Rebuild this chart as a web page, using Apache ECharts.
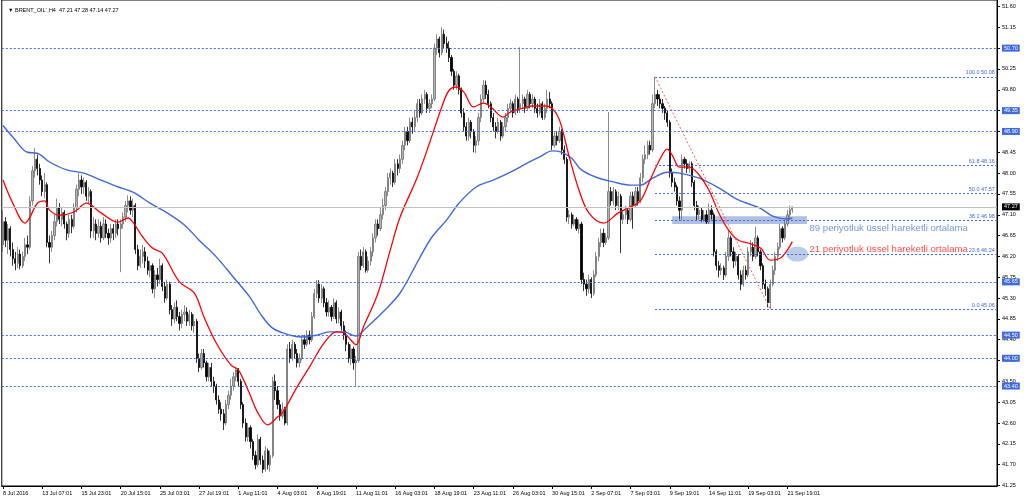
<!DOCTYPE html>
<html>
<head>
<meta charset="utf-8">
<script src="https://cdn.jsdelivr.net/npm/echarts@6/dist/echarts.min.js"></script>
<style>
html,body{margin:0;padding:0;background:#fff;}
#chart{width:1024px;height:502px;}
</style>
</head>
<body>
<div id="chart"></div>
<script>
// ---- DATA ----
const symbolName = 'BRENT_OIL`,H4';
const tickLabels = ['8 Jul 2016','13 Jul 07:01','15 Jul 23:01','20 Jul 15:01','25 Jul 03:01','27 Jul 19:01','1 Aug 11:01','4 Aug 03:01','8 Aug 19:01','11 Aug 11:01','16 Aug 03:01','18 Aug 19:01','23 Aug 11:01','26 Aug 03:01','30 Aug 15:01','2 Sep 07:01','7 Sep 03:01','9 Sep 19:01','14 Sep 11:01','19 Sep 03:01','21 Sep 19:01'];
const barsPerTick = 16;
const totalSlots = 406;
// [open, close, low, high]
const candles = [
[46.45,46.95,46.30,47.20],[46.95,46.55,46.40,47.05],[46.55,46.80,46.25,46.90],[46.80,46.35,46.20,46.85],
[46.35,46.15,46.00,46.50],[46.15,46.05,45.90,46.30],[46.05,46.25,45.95,46.40],[46.25,46.00,45.92,46.35],
[46.00,46.20,45.95,46.30],[46.20,46.45,46.10,46.60],[46.45,46.40,46.25,46.65],[46.40,47.40,46.35,47.50],
[47.40,48.05,47.30,48.15],[48.05,48.30,47.90,48.54],[48.30,48.10,47.95,48.40],[48.10,47.85,47.75,48.20],
[47.85,47.60,47.50,47.95],[47.60,47.75,47.45,48.00],[47.75,46.50,46.40,47.80],[46.50,46.40,46.05,46.65],
[46.40,46.65,46.30,46.75],[46.65,46.95,46.55,47.10],[46.95,47.25,46.85,47.45],[47.25,47.00,46.90,47.35],
[47.00,47.15,46.85,47.25],[47.15,46.90,46.80,47.20],[46.90,46.70,46.55,46.95],[46.70,47.00,46.60,47.10],
[47.00,46.85,46.70,47.10],[46.85,47.25,46.80,47.35],[47.25,47.65,47.15,47.75],[47.65,47.85,47.50,48.00],
[47.85,47.70,47.55,47.95],[47.70,47.80,47.55,47.90],[47.80,47.50,47.40,47.85],[47.50,47.60,47.35,47.70],
[47.60,46.75,46.60,47.65],[46.75,46.90,46.60,47.05],[46.90,46.70,46.55,47.00],[46.70,46.85,46.60,47.00],
[46.85,46.60,46.50,46.95],[46.60,46.90,46.55,47.05],[46.90,46.70,46.60,47.00],[46.70,46.60,46.45,46.80],
[46.60,46.80,46.50,46.90],[46.80,46.70,46.55,46.90],[46.70,46.90,46.60,47.00],[46.90,46.80,46.65,47.00],
[46.80,46.90,45.86,47.00],[46.90,47.05,46.80,47.15],[47.05,47.30,46.95,47.40],[47.30,47.40,47.15,47.52],
[47.40,47.20,47.10,47.50],[47.20,47.30,47.05,47.45],[47.30,46.35,46.25,47.35],[46.35,46.00,45.90,46.45],
[46.00,46.20,45.95,46.35],[46.20,46.30,46.05,46.45],[46.30,46.10,45.95,46.40],[46.10,45.90,45.80,46.20],
[45.90,46.00,45.75,46.10],[46.00,45.50,45.40,46.05],[45.50,45.80,45.30,45.90],[45.80,45.70,45.55,45.95],
[45.70,46.00,45.60,46.15],[46.00,45.55,45.45,46.05],[45.55,45.30,45.20,45.65],[45.30,45.60,45.25,45.70],
[45.60,45.05,44.95,45.65],[45.05,44.85,44.70,45.15],[44.85,45.10,44.75,45.20],[45.10,44.90,44.80,45.25],
[44.90,44.75,44.60,45.00],[44.75,44.95,44.65,45.05],[44.95,45.00,44.80,45.15],[45.00,44.80,44.70,45.10],
[44.80,44.95,44.70,45.05],[44.95,44.70,44.60,45.00],[44.70,44.80,44.55,44.95],[44.80,44.00,43.90,44.85],
[44.00,43.80,43.70,44.10],[43.80,44.10,43.75,44.20],[44.10,43.90,43.80,44.20],[43.90,43.60,43.50,43.95],
[43.60,43.80,43.50,43.90],[43.80,43.50,43.40,43.90],[43.50,43.40,43.25,43.60],[43.40,43.10,43.00,43.45],
[43.10,42.90,42.80,43.20],[42.90,42.80,42.65,43.05],[42.80,42.60,42.45,42.90],[42.60,43.00,42.55,43.10],
[43.00,43.20,42.90,43.30],[43.20,43.40,43.10,43.55],[43.40,43.60,43.30,43.70],[43.60,43.75,43.50,43.79],
[43.75,43.50,43.40,43.79],[43.50,43.00,42.90,43.55],[43.00,42.60,42.50,43.05],[42.60,42.30,42.20,42.70],
[42.30,42.50,42.20,42.60],[42.50,42.20,42.05,42.55],[42.20,41.90,41.80,42.25],[41.90,41.70,41.60,42.00],
[41.70,42.25,41.65,42.35],[42.25,41.80,41.70,42.30],[41.80,41.60,41.52,41.90],[41.60,42.00,41.55,42.10],
[42.00,41.70,41.60,42.05],[41.70,41.90,41.55,42.00],[41.90,43.50,41.85,43.60],[43.50,43.30,43.10,43.65],
[43.30,43.00,42.90,43.40],[43.00,42.75,42.65,43.10],[42.75,42.90,42.70,43.05],[42.90,42.60,42.55,42.95],
[42.60,44.20,42.55,44.30],[44.20,44.00,43.90,44.35],[44.00,44.30,43.95,44.40],[44.30,44.10,44.00,44.35],
[44.10,43.90,43.80,44.20],[43.90,44.00,43.80,44.10],[44.00,44.40,43.95,44.50],[44.40,44.30,44.20,44.50],
[44.30,44.50,44.25,44.60],[44.50,44.40,44.30,44.60],[44.40,44.90,44.35,45.00],[44.90,45.40,44.85,45.50],
[45.40,45.60,45.30,45.69],[45.60,45.30,45.20,45.69],[45.30,45.50,45.20,45.60],[45.50,45.20,45.10,45.55],
[45.20,45.00,44.90,45.30],[45.00,45.10,44.90,45.25],[45.10,44.90,44.80,45.15],[44.90,45.20,44.85,45.30],
[45.20,44.85,44.75,45.25],[44.85,45.00,44.75,45.10],[45.00,44.70,44.60,45.05],[44.70,44.50,44.40,44.80],
[44.50,44.30,44.15,44.60],[44.30,44.00,43.90,44.35],[44.00,44.20,43.85,44.30],[44.20,43.90,43.75,44.25],
[43.90,43.95,43.40,44.05],[43.95,46.20,43.90,46.30],[46.20,46.00,45.90,46.35],[46.00,46.30,45.95,46.40],
[46.30,45.90,45.85,46.35],[45.90,46.10,45.85,46.20],[46.10,46.30,46.00,46.40],[46.30,46.60,46.20,46.70],
[46.60,46.90,46.50,47.00],[46.90,46.80,46.65,47.00],[46.80,47.10,46.75,47.25],[47.10,47.30,47.00,47.45],
[47.30,47.60,47.20,47.70],[47.60,47.90,47.50,48.00],[47.90,48.00,47.75,48.10],[48.00,47.80,47.70,48.05],
[47.80,48.20,47.75,48.30],[48.20,48.10,47.95,48.30],[48.10,48.30,48.00,48.40],[48.30,48.60,48.20,48.70],
[48.60,48.90,48.50,49.00],[48.90,48.70,48.60,49.00],[48.70,49.10,48.65,49.20],[49.10,49.00,48.85,49.20],
[49.00,49.20,48.90,49.35],[49.20,49.50,49.10,49.60],[49.50,49.30,49.20,49.60],[49.30,49.60,49.25,49.70],
[49.60,49.70,49.50,49.80],[49.70,49.40,49.30,49.75],[49.40,49.50,49.30,49.60],[49.50,49.60,49.40,49.70],
[49.60,50.70,49.55,50.80],[50.70,50.90,50.55,51.00],[50.90,50.60,50.50,50.95],[50.60,51.00,50.55,51.15],
[51.00,50.80,50.70,51.10],[50.80,50.70,50.60,50.95],[50.70,50.50,50.40,50.85],[50.50,50.20,50.10,50.55],
[50.20,49.90,49.80,50.25],[49.90,50.10,49.80,50.20],[50.10,49.80,49.70,50.15],[49.80,49.30,49.20,49.85],
[49.30,49.00,48.90,49.40],[49.00,48.80,48.70,49.10],[48.80,49.10,48.70,49.20],[49.10,48.90,48.75,49.15],
[48.90,48.60,48.45,48.95],[48.60,48.70,48.43,48.80],[48.70,49.20,48.60,49.30],[49.20,49.60,49.10,49.70],
[49.60,49.90,49.50,50.01],[49.90,49.70,49.60,50.00],[49.70,49.50,49.40,49.80],[49.50,49.20,49.10,49.55],
[49.20,49.00,48.90,49.30],[49.00,48.90,48.75,49.10],[48.90,49.10,48.85,49.20],[49.10,48.80,48.70,49.15],
[48.80,49.00,48.75,49.10],[49.00,49.20,48.90,49.30],[49.20,49.40,49.10,49.50],[49.40,49.50,49.30,49.60],
[49.50,49.30,49.20,49.55],[49.30,49.60,49.25,49.70],[49.60,49.40,49.30,49.65],[49.40,49.50,49.30,50.72],
[49.50,49.60,49.40,49.70],[49.60,49.40,49.30,49.65],[49.40,49.70,49.35,49.80],[49.70,49.50,49.40,49.75],
[49.50,49.60,49.40,49.70],[49.60,49.40,49.30,49.65],[49.40,49.30,49.20,49.50],[49.30,49.50,49.25,49.60],
[49.50,49.20,49.15,49.55],[49.20,49.40,49.15,49.50],[49.40,49.60,49.30,49.80],[49.60,49.50,49.40,49.75],
[49.50,48.60,48.50,49.55],[48.60,48.80,48.55,48.90],[48.80,48.70,48.60,48.90],[48.70,48.90,48.65,49.00],
[48.90,48.50,48.40,48.95],[48.50,48.30,48.20,48.60],[48.30,47.05,46.95,48.35],[47.05,47.10,46.90,47.20],
[47.10,46.90,46.80,47.15],[46.90,47.00,46.85,47.10],[47.00,46.80,46.75,47.05],[46.80,46.90,46.70,47.00],
[46.90,45.70,45.60,46.95],[45.70,45.60,45.45,45.85],[45.60,45.50,45.35,45.70],[45.50,45.70,45.40,45.80],
[45.70,45.40,45.30,45.75],[45.40,45.80,45.35,45.90],[45.80,46.20,45.75,46.30],[46.20,46.50,46.10,46.60],
[46.50,46.70,46.40,46.80],[46.70,46.50,46.40,46.80],[46.50,46.60,46.45,46.70],[46.60,47.60,46.55,49.32],
[47.60,47.40,47.30,47.70],[47.40,47.60,47.30,47.70],[47.60,47.30,47.20,47.65],[47.30,47.50,47.20,47.60],
[47.50,47.00,46.27,47.55],[47.00,47.10,46.90,47.20],[47.10,47.20,47.00,47.30],[47.20,47.00,46.90,47.25],
[47.00,47.50,46.95,47.60],[47.50,47.30,46.80,47.60],[47.30,47.60,47.25,47.70],[47.60,47.40,47.30,47.70],
[47.40,47.90,47.35,48.00],[47.90,48.30,47.80,48.40],[48.30,48.40,48.20,48.60],[48.40,48.60,48.30,48.70],
[48.60,48.50,48.40,48.70],[48.50,49.50,48.45,49.70],[49.50,49.70,49.40,50.08],[49.70,49.60,49.45,49.80],
[49.60,49.50,49.40,49.70],[49.50,49.40,49.30,49.60],[49.40,49.30,49.15,49.45],[49.30,49.10,49.00,49.35],
[49.10,48.00,47.90,49.15],[48.00,47.80,47.70,48.10],[47.80,47.70,47.60,47.90],[47.70,47.40,47.30,47.75],
[47.40,47.20,47.00,47.50],[47.20,48.30,46.98,48.40],[48.30,48.20,48.10,48.35],[48.20,48.10,48.00,48.30],
[48.10,48.20,48.00,48.25],[48.20,47.80,47.70,48.25],[47.80,47.30,47.20,47.85],[47.30,47.10,46.99,47.40],
[47.10,47.20,47.00,47.30],[47.20,47.00,46.95,47.25],[47.00,47.10,46.95,47.20],[47.10,46.95,46.90,47.20],
[46.95,47.20,46.90,47.35],[47.20,47.10,47.00,47.30],[47.10,46.30,46.20,47.15],[46.30,46.00,45.90,46.35],
[46.00,45.90,45.75,46.10],[45.90,45.95,45.80,46.05],[45.95,45.80,45.69,46.00],[45.80,46.20,45.75,46.30],
[46.20,46.60,46.10,46.77],[46.60,46.30,46.20,46.65],[46.30,46.10,45.95,46.40],[46.10,46.20,46.00,46.30],
[46.20,45.80,45.70,46.25],[45.80,45.60,45.47,45.90],[45.60,45.90,45.55,46.00],[45.90,45.80,45.70,46.00],
[45.80,46.30,45.75,46.40],[46.30,46.40,46.20,46.55],[46.40,46.20,46.10,46.50],[46.20,46.60,46.15,46.84],
[46.60,46.30,46.20,46.65],[46.30,46.00,45.90,46.35],[46.00,45.60,45.50,46.05],[45.60,45.50,45.35,45.70],
[45.50,45.20,45.10,45.55],[45.20,45.60,45.06,45.70],[45.60,45.90,45.55,46.00],[45.90,46.20,45.80,46.30],
[46.20,46.40,46.10,46.50],[46.40,46.80,46.35,46.90],[46.80,46.60,46.50,46.85],[46.60,46.90,46.55,47.00],
[46.90,47.10,46.85,47.20],[47.10,47.21,47.00,47.30],[47.21,47.27,47.14,47.28]
];
// EMA 21 (red) read at sample bars: [barIndex, value]
const ema21 = [[0,47.85],[4,47.35],[9,46.92],[11,47.05],[14,47.35],[17,47.40],[19,47.20],[23,47.09],[29,47.16],[34,47.35],[40,47.14],[47,46.94],[51,47.03],[53,46.94],[57,46.62],[61,46.38],[65,46.27],[72,45.65],[78,45.41],[82,44.89],[87,44.33],[93,43.85],[96,43.75],[100,43.31],[104,42.82],[108,42.56],[112,42.73],[114,42.82],[120,43.38],[125,43.81],[131,44.33],[136,44.57],[139,44.55],[142,44.39],[144,44.29],[147,44.67],[153,45.41],[158,46.34],[162,47.05],[169,47.91],[174,48.65],[179,49.43],[182,49.79],[185,49.86],[188,49.75],[192,49.43],[196,49.51],[199,49.43],[204,49.21],[207,49.32],[212,49.40],[216,49.45],[221,49.45],[224,49.40],[227,49.15],[231,48.35],[235,47.63],[239,47.14],[245,46.92],[251,47.14],[256,47.27],[260,47.40],[264,47.85],[268,48.30],[271,48.52],[273,48.39],[276,48.13],[280,48.13],[284,47.96],[288,47.63],[292,47.14],[296,46.77],[300,46.55],[304,46.49],[309,46.38],[313,46.12],[317,46.16],[320,46.34],[322,46.52]];
// EMA 89 (blue)
const ema89 = [[0,49.03],[4,48.78],[10,48.45],[14,48.43],[19,48.24],[26,48.07],[33,48.00],[40,47.85],[47,47.70],[53,47.59],[60,47.35],[67,47.14],[74,46.88],[80,46.55],[87,46.19],[94,45.75],[101,45.30],[105,44.96],[110,44.65],[117,44.50],[122,44.46],[128,44.50],[133,44.57],[139,44.57],[144,44.48],[148,44.65],[155,45.00],[162,45.41],[170,46.17],[175,46.62],[181,46.99],[186,47.35],[193,47.70],[200,47.85],[207,48.02],[214,48.22],[219,48.35],[224,48.48],[228,48.45],[232,48.32],[236,48.07],[242,47.91],[249,47.81],[256,47.74],[260,47.74],[265,47.89],[271,48.02],[276,48.00],[284,47.89],[292,47.68],[300,47.42],[309,47.24],[314,47.07],[320,47.01],[322,47.03]];
const hLevels = [50.70, 49.35, 48.90, 45.65, 44.50, 44.00, 43.40];
const lastPrice = 47.27;
const fibLevels = [100.0, 61.8, 50.0, 38.2, 23.6, 0.0];
const fibPrices = [50.08, 48.16, 47.57, 46.98, 46.24, 45.06];
const fibStartBar = 266, fibEndBar = 405;
const trendLine = [[266, 50.08], [313, 45.06]];
const zoneBars = [273, 328], zonePrices = [47.07, 46.90];
const ellipsePoint = [324, 46.25];
const noteBlue = {text: '89 periyotluk üssel hareketli ortalama', at: [329, 46.81]};
const noteRed = {text: '21 periyotluk üssel hareketli ortalama', at: [329, 46.36]};
const yTicks = [41.25,41.70,42.15,42.60,43.05,43.50,43.95,44.40,44.85,45.30,45.75,46.20,46.65,47.10,47.55,48.00,48.45,48.90,49.35,49.80,50.25,50.70,51.15,51.60];

// ---- BUILD ----
const cats = [];
for (let i = 0; i < totalSlots; i++) {
  const k = i / barsPerTick;
  cats.push(i % barsPerTick === 0 && k < tickLabels.length ? tickLabels[k] : '');
}
const showTick = (idx) => idx % barsPerTick === 0 && idx / barsPerTick < tickLabels.length;
const FONT = 'Liberation Sans, Arial, sans-serif';
const BLUE = '#4169e1';
const last = candles[candles.length - 1];

const markLines = [];
hLevels.forEach(v => markLines.push({
  yAxis: v,
  lineStyle: {color: BLUE, type: [2, 2], width: 1},
  label: {show: true, position: 'end', distance: 5, formatter: v.toFixed(2), color: '#fff', backgroundColor: BLUE, padding: [1, 2, 0, 2], fontSize: 5.5, fontFamily: FONT}
}));
markLines.push({
  yAxis: lastPrice,
  lineStyle: {color: '#c0c0c0', type: 'solid', width: 1},
  label: {show: true, position: 'end', distance: 5, formatter: lastPrice.toFixed(2), color: '#fff', backgroundColor: '#000', padding: [1, 2, 0, 2], fontSize: 5.5, fontFamily: FONT}
});
fibPrices.forEach((p, i) => markLines.push([
  {coord: [fibStartBar, p], lineStyle: {color: BLUE, type: [2, 2], width: 1},
   label: {show: true, position: 'insideEndTop', distance: 1, formatter: fibLevels[i].toFixed(1) + ' ' + p.toFixed(2), color: BLUE, fontSize: 5.5, fontFamily: FONT}},
  {coord: [fibEndBar, p]}
]));
markLines.push([
  {coord: trendLine[0], lineStyle: {color: '#ff5a5a', type: [2, 2], width: 1}, label: {show: false}},
  {coord: trendLine[1]}
]);

const option = {
  animation: false,
  backgroundColor: '#fff',
  title: {
    text: '▼ ' + symbolName + '  ' + last[0].toFixed(2) + ' ' + last[3].toFixed(2) + ' ' + last[2].toFixed(2) + ' ' + last[1].toFixed(2),
    left: 3, top: 2,
    textStyle: {fontSize: 5.5, fontWeight: 'normal', color: '#000', fontFamily: FONT}
  },
  grid: {left: 1, right: 27, top: 0, bottom: 16, show: true, borderColor: '#000', borderWidth: 1, backgroundColor: '#fff'},
  xAxis: {
    type: 'category', data: cats, boundaryGap: true,
    axisLine: {show: true, lineStyle: {color: '#000', width: 1}},
    axisTick: {show: true, alignWithLabel: true, interval: showTick, length: 3, lineStyle: {color: '#000'}},
    axisLabel: {interval: showTick, align: 'left', margin: 4, fontSize: 5.5, color: '#000', fontFamily: FONT},
    splitLine: {show: false}
  },
  yAxis: {
    type: 'value', position: 'right', min: 41.24, max: 51.74, scale: true,
    axisLine: {show: true, lineStyle: {color: '#000', width: 1}},
    axisTick: {show: true, length: 3, customValues: yTicks, lineStyle: {color: '#000'}},
    axisLabel: {customValues: yTicks, margin: 5, fontSize: 5.5, color: '#000', fontFamily: FONT, formatter: v => v.toFixed(2)},
    splitLine: {show: false}
  },
  series: [
    {
      type: 'candlestick', data: candles, barWidth: '70%', barMaxWidth: 2,
      itemStyle: {color: '#b4b4b4', borderColor: '#6e6e6e', color0: '#000', borderColor0: '#000', borderWidth: 0.8},
      markLine: {silent: true, symbol: ['none', 'none'], animation: false, data: markLines},
      markArea: {silent: true, itemStyle: {color: 'rgba(95,130,200,0.5)'},
        data: [[{coord: [zoneBars[0], zonePrices[0]]}, {coord: [zoneBars[1], zonePrices[1]]}]]}
    },
    {type: 'line', data: ema89, smooth: 0.35, symbol: 'none', lineStyle: {color: '#3f68e0', width: 1.4}, z: 3},
    {type: 'line', data: ema21, smooth: 0.35, symbol: 'none', lineStyle: {color: '#ff0000', width: 1.3}, z: 4},
    {type: 'scatter', data: [ellipsePoint], symbol: 'circle', symbolSize: [22, 15], itemStyle: {color: 'rgba(125,158,215,0.65)'}, z: 2},
    {type: 'scatter', symbolSize: 0, z: 6,
      data: [
        {value: noteBlue.at, label: {show: true, position: 'right', distance: 0, formatter: noteBlue.text, color: '#5479d8', fontSize: 9.6, fontFamily: FONT}},
        {value: noteRed.at, label: {show: true, position: 'right', distance: 0, formatter: noteRed.text, color: '#ff1a1a', fontSize: 9.6, fontFamily: FONT}}
      ]}
  ]
};
const chart = echarts.init(document.getElementById('chart'), null, {renderer: 'canvas'});
chart.setOption(option);
</script>
</body>
</html>
